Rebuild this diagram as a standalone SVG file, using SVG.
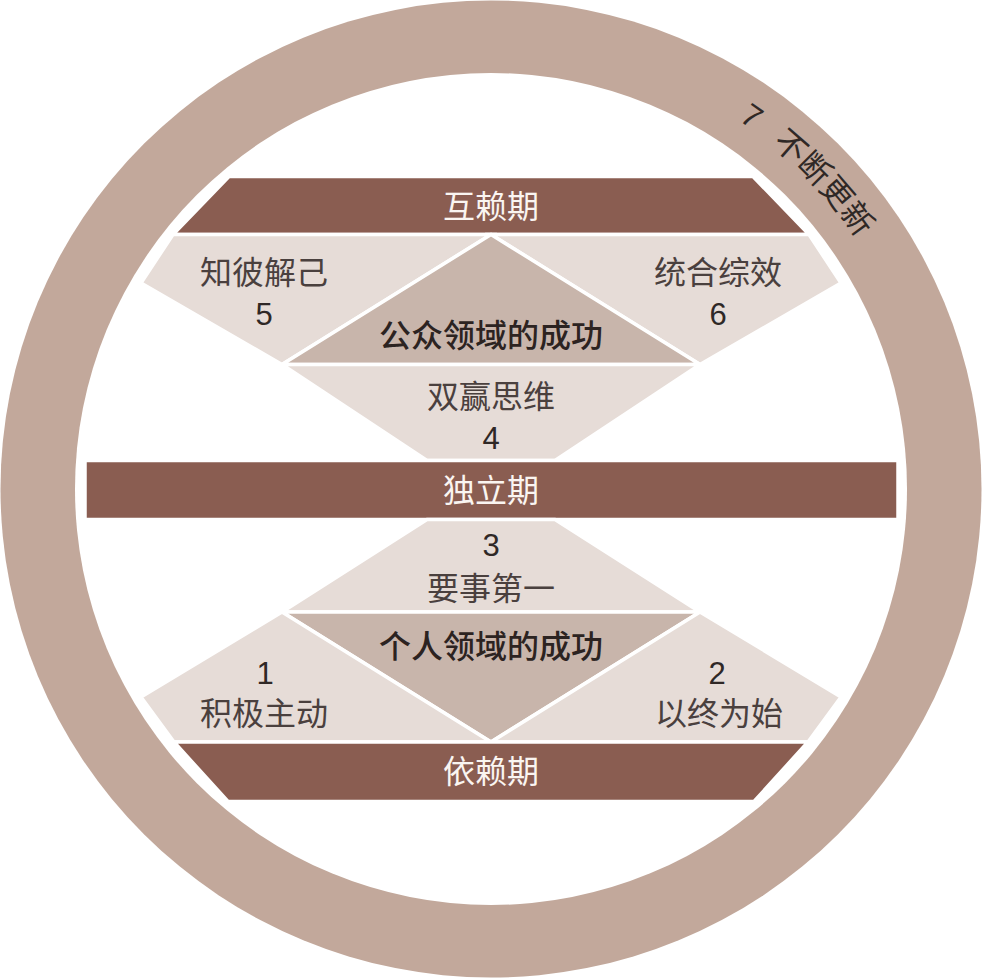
<svg xmlns="http://www.w3.org/2000/svg" width="983" height="978" viewBox="0 0 983 978">
<style>
  text { font-family: "Liberation Sans", "Noto Sans CJK SC", sans-serif; text-anchor: middle; }
  .band { fill: #8A5D51; stroke: #ffffff; stroke-width: 3.5; stroke-linejoin: miter; }
  .panel { fill: #E6DCD7; stroke: #ffffff; stroke-width: 3.5; stroke-linejoin: miter; }
  .tri { fill: #C8B5AB; stroke: #ffffff; stroke-width: 3.5; stroke-linejoin: miter; }
  .bandText { font-size: 32px; fill: #FAF5F1; }
  .label { font-size: 32px; fill: #4A403E; }
  .num { font-size: 31px; fill: #2F2826; }
  .title { font-size: 32px; fill: #2C2321; font-weight: 500; }
  .ringText { font-size: 32px; fill: #2F2826; text-anchor: start; }
</style>
<defs>
  <path id="ringArc" d="M 491 45 A 444 444 0 0 1 935 489"/>
</defs>
<rect x="0" y="0" width="983" height="978" fill="#ffffff"/>

<g id="ring">
  <ellipse cx="491" cy="489" rx="490.5" ry="488.5" fill="#C2A89B"/>
  <circle cx="491" cy="489" r="416" fill="#ffffff"/>
  <text class="ringText"><textPath href="#ringArc" startOffset="262">7</textPath></text>
  <text class="ringText"><textPath href="#ringArc" startOffset="303">不断更新</textPath></text>
</g>

<g id="interdependence">
  <polygon class="band" points="229,176.5 753,176.5 809,234.5 173,234.5"/>
  <text class="bandText" x="491" y="218">互赖期</text>
</g>

<g id="habit5">
  <polygon class="panel" points="173,234.5 491,234.5 282,364.5 141,283"/>
  <text class="label" x="264" y="284">知彼解己</text>
  <text class="num" x="264" y="325">5</text>
</g>

<g id="habit6">
  <polygon class="panel" points="491,234.5 809,234.5 841,283 700,364.5"/>
  <text class="label" x="718" y="284">统合综效</text>
  <text class="num" x="718" y="325">6</text>
</g>

<g id="publicVictory">
  <polygon class="tri" points="491,234.5 700,364.5 282,364.5"/>
  <text class="title" x="491" y="347">公众领域的成功</text>
</g>

<g id="habit4">
  <polygon class="panel" points="282,364.5 700,364.5 555,460.5 427,460.5"/>
  <text class="label" x="491" y="408">双赢思维</text>
  <text class="num" x="491" y="449">4</text>
</g>

<g id="independence">
  <rect class="band" x="85" y="460.5" width="813" height="59"/>
  <text class="bandText" x="491" y="502">独立期</text>
</g>

<g id="habit3">
  <polygon class="panel" points="427,519.5 555,519.5 700,612 282,612"/>
  <text class="num" x="491" y="556">3</text>
  <text class="label" x="491" y="600">要事第一</text>
</g>

<g id="privateVictory">
  <polygon class="tri" points="282,612 700,612 491,742"/>
  <text class="title" x="491" y="658">个人领域的成功</text>
</g>

<g id="habit1">
  <polygon class="panel" points="282,612 491,742 174,742 141,697"/>
  <text class="num" x="265" y="684">1</text>
  <text class="label" x="264" y="725">积极主动</text>
</g>

<g id="habit2">
  <polygon class="panel" points="700,612 841,697 808,742 491,742"/>
  <text class="num" x="717" y="684">2</text>
  <text class="label" x="719" y="725">以终为始</text>
</g>

<g id="dependence">
  <polygon class="band" points="174,742 808,742 754,801.5 228,801.5"/>
  <text class="bandText" x="491" y="783">依赖期</text>
</g>
</svg>
